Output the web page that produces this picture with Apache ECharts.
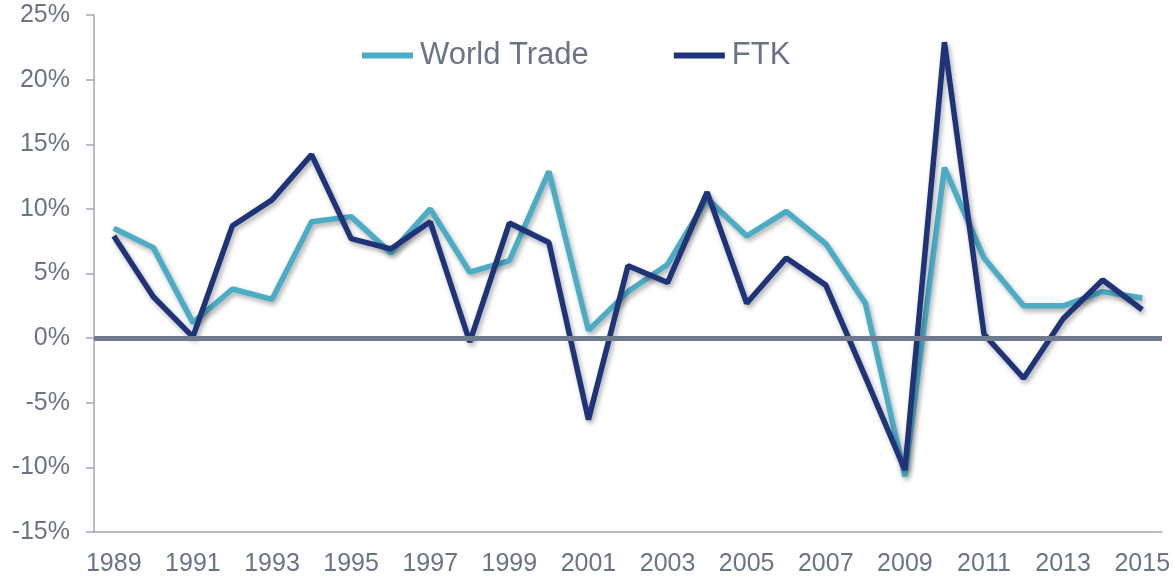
<!DOCTYPE html>
<html>
<head>
<meta charset="utf-8">
<script src="https://cdn.jsdelivr.net/npm/echarts@6/dist/echarts.min.js"></script>
<style>
html,body{margin:0;padding:0;background:#fff;}
#chart{width:1174px;height:578px;}
</style>
</head>
<body>
<div id="chart"></div>
<script>
var years = ['1989','1990','1991','1992','1993','1994','1995','1996','1997','1998','1999','2000','2001','2002','2003','2004','2005','2006','2007','2008','2009','2010','2011','2012','2013','2014','2015'];
var worldTrade = [8.5, 7.0, 1.2, 3.8, 3.0, 9.0, 9.4, 6.6, 10.0, 5.1, 6.0, 12.9, 0.6, 3.6, 5.7, 10.8, 7.9, 9.8, 7.3, 2.7, -10.7, 13.2, 6.2, 2.5, 2.5, 3.6, 3.1];
var ftk = [7.9, 3.2, 0.1, 8.7, 10.7, 14.2, 7.7, 6.9, 9.0, -0.3, 8.9, 7.4, -6.3, 5.6, 4.3, 11.3, 2.7, 6.2, 4.1, -3.0, -10.2, 22.9, 0.3, -3.1, 1.5, 4.5, 2.2];
var yTicks = {min: -15, max: 25, interval: 5};

var labelColor = '#6B7389';
var axisColor = '#A3A7B3';
var font = 'Arial, "Liberation Sans", sans-serif';

var chart = echarts.init(document.getElementById('chart'), null, {renderer: 'canvas'});
var shadow = {shadowColor: 'rgba(0,0,0,0.32)', shadowBlur: 5, shadowOffsetX: 2, shadowOffsetY: 3};

chart.setOption({
  animation: false,
  backgroundColor: '#ffffff',
  grid: {left: 94, right: 12, top: 15, bottom: 46, containLabel: false},
  legend: {
    data: ['World Trade', 'FTK'],
    left: 357,
    top: 35,
    itemWidth: 51,
    itemHeight: 6,
    itemGap: 85,
    icon: 'rect',
    textStyle: {fontSize: 31, color: labelColor, fontFamily: font, padding: [0, 0, 0, 2]}
  },
  xAxis: {
    type: 'category',
    data: years,
    boundaryGap: true,
    axisLine: {show: true, onZero: false, lineStyle: {color: axisColor, width: 1.5}},
    axisTick: {show: false},
    axisLabel: {interval: 1, margin: 20, fontSize: 25, color: labelColor, fontFamily: font},
    splitLine: {show: false}
  },
  yAxis: {
    type: 'value',
    min: yTicks.min,
    max: yTicks.max,
    interval: yTicks.interval,
    axisLine: {show: true, lineStyle: {color: axisColor, width: 1.5}},
    axisTick: {show: true, length: 8, lineStyle: {color: axisColor, width: 1.5}},
    axisLabel: {margin: 24, fontSize: 25, color: labelColor, fontFamily: font, formatter: '{value}%'},
    splitLine: {show: false}
  },
  series: [
    {
      name: 'zero',
      type: 'line',
      data: [],
      z: 1,
      silent: true,
      markLine: {
        silent: true,
        symbol: ['none', 'none'],
        label: {show: false},
        lineStyle: {color: '#707A8F', width: 5, type: 'solid'},
        data: [{yAxis: 0}]
      }
    },
    {
      name: 'World Trade',
      type: 'line',
      data: worldTrade,
      z: 3,
      symbol: 'none',
      color: '#4BACC6',
      lineStyle: Object.assign({color: '#4BACC6', width: 5.5}, shadow)
    },
    {
      name: 'FTK',
      type: 'line',
      data: ftk,
      z: 4,
      symbol: 'none',
      color: '#1F3378',
      lineStyle: Object.assign({color: '#1F3378', width: 5.5}, shadow)
    }
  ]
});
</script>
</body>
</html>
